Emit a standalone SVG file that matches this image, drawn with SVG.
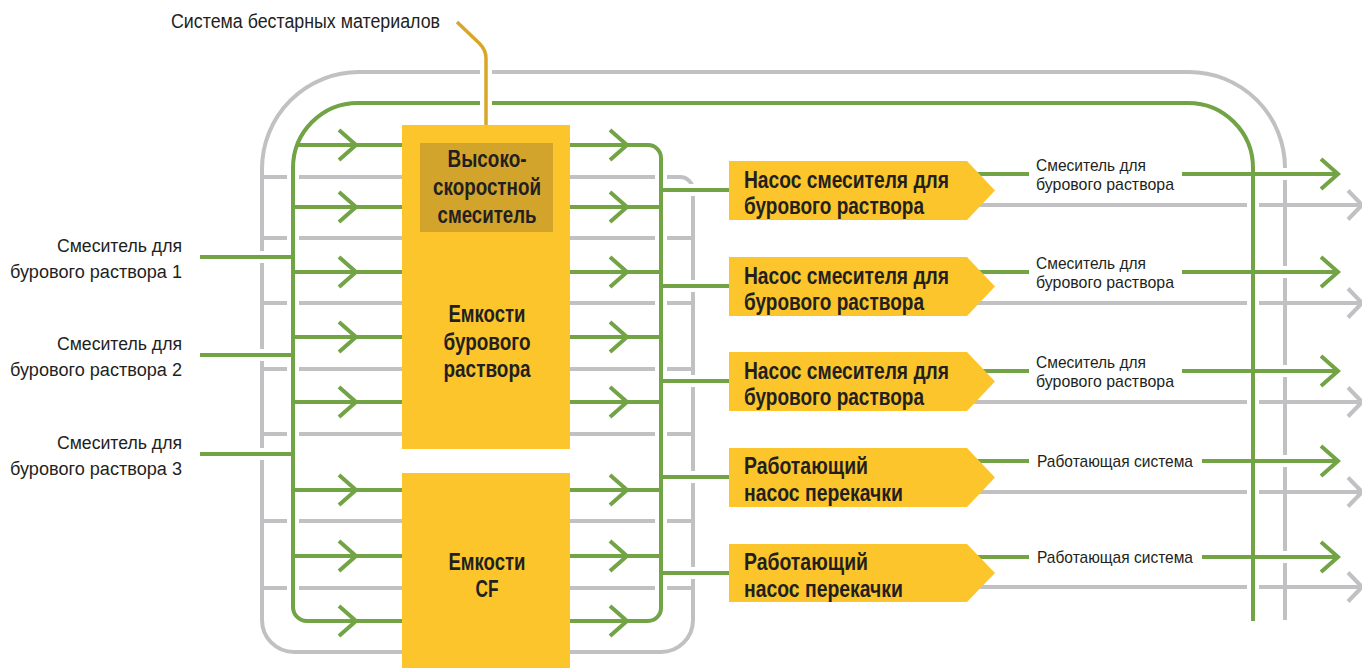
<svg xmlns="http://www.w3.org/2000/svg" xmlns:xlink="http://www.w3.org/1999/xlink" width="1362" height="668" viewBox="0 0 1362 668">
  <style>
    .gray { fill: none; stroke: #C1C1C4; stroke-width: 4; }
    .green { fill: none; stroke: #72A345; stroke-width: 4; }
    .halo { fill: none; stroke: #FFFFFF; stroke-width: 12; }
    .gold { fill: none; stroke: #D8A72A; stroke-width: 3.5; }
    .tank { fill: #FBC52B; }
    .mixer { fill: #D3A42B; }
    .pump { fill: #FBC52B; }
    .bold { font-family: "Liberation Sans Narrow", "Liberation Sans", Arial, sans-serif; font-weight: bold; font-size: 24px; fill: #231F20; }
    .lbl { font-family: "Liberation Sans Narrow", "Liberation Sans", Arial, sans-serif; font-size: 18px; fill: #231F20; }
    .mid { text-anchor: middle; }
    .end { text-anchor: end; }
  </style>
  <defs>
    <!-- green piping, reused for the white crossing halo and the stroke itself -->
    <g id="greenPipes">
      <path d="M402,621 H307 A14,14 0 0 1 293,607 V168 A65,65 0 0 1 358,103 H1188 A65,65 0 0 1 1253,168 V621"/>
      <path d="M297,145 H402 M293,207 H402 M293,272 H402 M293,337 H402 M293,402 H402 M293,490 H402 M293,556 H402"/>
      <path d="M570,145 H648 A13,13 0 0 1 661,158 V608 A13,13 0 0 1 648,621 H570"/>
      <path d="M570,207 H661 M570,272 H661 M570,337 H661 M570,402 H661 M570,490 H661 M570,556 H661"/>
      <path d="M200,257 H293 M200,355 H293 M200,454 H293"/>
      <path d="M661,190 H729 M661,286 H729 M661,381 H729 M661,477 H729 M661,573 H729"/>
      <path d="M970,174 H1029 M1182,174 H1338 M970,272 H1029 M1182,272 H1338 M970,371 H1029 M1182,371 H1338 M970,461 H1029 M1202,461 H1338 M970,557 H1029 M1202,557 H1338"/>
    </g>
    <path id="goldPipe" d="M457,22 L479,43 Q486,50 486,58 V143"/>
  </defs>

  <g id="connectors">
    <!-- gray return lines -->
    <g class="gray">
      <path d="M402,652 H294 A32,32 0 0 1 262,620 V169 A97,97 0 0 1 359,72 H1189 A96,96 0 0 1 1285,168 V620"/>
      <path d="M262,177 H402 M262,238 H402 M262,303 H402 M262,369 H402 M262,434 H402 M262,521 H402 M262,588 H402"/>
      <path d="M570,177 H680 A13,13 0 0 1 693,190 V620 A32,32 0 0 1 661,652 H570"/>
      <path d="M570,238 H693 M570,303 H693 M570,369 H693 M570,434 H693 M570,521 H693 M570,588 H693"/>
      <path d="M970,205 H1362 M970,303 H1362 M970,402 H1362 M970,492 H1362 M970,587 H1362"/>
      <path d="M1348,190.5 L1362,205 L1348,219.5 M1348,288.5 L1362,303 L1348,317.5 M1348,387.5 L1362,402 L1348,416.5 M1348,477.5 L1362,492 L1348,506.5 M1348,572.5 L1362,587 L1348,601.5"/>
    </g>
    <!-- green supply lines -->
    <use xlink:href="#greenPipes" class="halo"/>
    <use xlink:href="#greenPipes" class="green"/>
    <g class="green">
      <path d="M339,130 L356,145 L339,160 M339,192 L356,207 L339,222 M339,257 L356,272 L339,287 M339,322 L356,337 L339,352 M339,387 L356,402 L339,417 M339,475 L356,490 L339,505 M339,541 L356,556 L339,571 M339,606 L356,621 L339,636"/>
      <path d="M610,130 L627,145 L610,160 M610,192 L627,207 L610,222 M610,257 L627,272 L610,287 M610,322 L627,337 L610,352 M610,387 L627,402 L610,417 M610,475 L627,490 L610,505 M610,541 L627,556 L610,571 M610,606 L627,621 L610,636"/>
      <path d="M1321,159 L1338,174 L1321,189 M1321,257 L1338,272 L1321,287 M1321,356 L1338,371 L1321,386 M1321,446 L1338,461 L1321,476 M1321,542 L1338,557 L1321,572"/>
    </g>
    <!-- bulk materials feed -->
    <use xlink:href="#goldPipe" class="halo"/>
    <use xlink:href="#goldPipe" class="gold"/>
  </g>

  <g id="tank-mud">
    <rect class="tank" x="402" y="125" width="168" height="324"/>
    <text class="bold mid" x="487" y="322" textLength="77" lengthAdjust="spacingAndGlyphs">Емкости</text>
    <text class="bold mid" x="487" y="349.5" textLength="87" lengthAdjust="spacingAndGlyphs">бурового</text>
    <text class="bold mid" x="487" y="377" textLength="87" lengthAdjust="spacingAndGlyphs">раствора</text>
  </g>
  <g id="mixer-hs">
    <rect class="mixer" x="420" y="143" width="133" height="89"/>
    <text class="bold mid" x="487" y="167" textLength="79" lengthAdjust="spacingAndGlyphs">Высоко-</text>
    <text class="bold mid" x="487" y="195" textLength="108" lengthAdjust="spacingAndGlyphs">скоростной</text>
    <text class="bold mid" x="487" y="223" textLength="99" lengthAdjust="spacingAndGlyphs">смеситель</text>
  </g>
  <g id="tank-cf">
    <rect class="tank" x="402" y="473" width="168" height="195"/>
    <text class="bold mid" x="487" y="570" textLength="77" lengthAdjust="spacingAndGlyphs">Емкости</text>
    <text class="bold mid" x="487" y="597" textLength="23" lengthAdjust="spacingAndGlyphs">CF</text>
  </g>

  <g id="pump-1">
    <polygon class="pump" points="729,161 967,161 995,190.5 967,220 729,220"/>
    <text class="bold" x="744" y="188" textLength="205" lengthAdjust="spacingAndGlyphs">Насос смесителя для</text>
    <text class="bold" x="744" y="214" textLength="180" lengthAdjust="spacingAndGlyphs">бурового раствора</text>
  </g>
  <g id="pump-2">
    <polygon class="pump" points="729,257 967,257 995,286.5 967,316 729,316"/>
    <text class="bold" x="744" y="284" textLength="205" lengthAdjust="spacingAndGlyphs">Насос смесителя для</text>
    <text class="bold" x="744" y="310" textLength="180" lengthAdjust="spacingAndGlyphs">бурового раствора</text>
  </g>
  <g id="pump-3">
    <polygon class="pump" points="729,352 967,352 995,381.5 967,411 729,411"/>
    <text class="bold" x="744" y="379" textLength="205" lengthAdjust="spacingAndGlyphs">Насос смесителя для</text>
    <text class="bold" x="744" y="405" textLength="180" lengthAdjust="spacingAndGlyphs">бурового раствора</text>
  </g>
  <g id="pump-4">
    <polygon class="pump" points="729,448 967,448 995,477.5 967,507 729,507"/>
    <text class="bold" x="744" y="474" textLength="124" lengthAdjust="spacingAndGlyphs">Работающий</text>
    <text class="bold" x="744" y="501" textLength="159" lengthAdjust="spacingAndGlyphs">насос перекачки</text>
  </g>
  <g id="pump-5">
    <polygon class="pump" points="729,544 967,544 995,573 967,602 729,602"/>
    <text class="bold" x="744" y="570" textLength="124" lengthAdjust="spacingAndGlyphs">Работающий</text>
    <text class="bold" x="744" y="597" textLength="159" lengthAdjust="spacingAndGlyphs">насос перекачки</text>
  </g>

  <g id="labels">
    <text class="lbl" x="171" y="28" textLength="269" lengthAdjust="spacingAndGlyphs" style="font-size:20px">Система бестарных материалов</text>

    <text class="lbl end" x="182" y="252" textLength="125" lengthAdjust="spacingAndGlyphs">Смеситель для</text>
    <text class="lbl end" x="182" y="278" textLength="172" lengthAdjust="spacingAndGlyphs">бурового раствора 1</text>
    <text class="lbl end" x="182" y="350" textLength="125" lengthAdjust="spacingAndGlyphs">Смеситель для</text>
    <text class="lbl end" x="182" y="376" textLength="172" lengthAdjust="spacingAndGlyphs">бурового раствора 2</text>
    <text class="lbl end" x="182" y="449" textLength="125" lengthAdjust="spacingAndGlyphs">Смеситель для</text>
    <text class="lbl end" x="182" y="475" textLength="172" lengthAdjust="spacingAndGlyphs">бурового раствора 3</text>

    <text class="lbl" x="1036" y="171" textLength="110" lengthAdjust="spacingAndGlyphs" style="font-size:17px">Смеситель для</text>
    <text class="lbl" x="1036" y="190" textLength="138" lengthAdjust="spacingAndGlyphs" style="font-size:17px">бурового раствора</text>
    <text class="lbl" x="1036" y="269" textLength="110" lengthAdjust="spacingAndGlyphs" style="font-size:17px">Смеситель для</text>
    <text class="lbl" x="1036" y="288" textLength="138" lengthAdjust="spacingAndGlyphs" style="font-size:17px">бурового раствора</text>
    <text class="lbl" x="1036" y="368" textLength="110" lengthAdjust="spacingAndGlyphs" style="font-size:17px">Смеситель для</text>
    <text class="lbl" x="1036" y="387" textLength="138" lengthAdjust="spacingAndGlyphs" style="font-size:17px">бурового раствора</text>
    <text class="lbl" x="1037" y="467" textLength="156" lengthAdjust="spacingAndGlyphs" style="font-size:17px">Работающая система</text>
    <text class="lbl" x="1037" y="563" textLength="156" lengthAdjust="spacingAndGlyphs" style="font-size:17px">Работающая система</text>
  </g>
</svg>
